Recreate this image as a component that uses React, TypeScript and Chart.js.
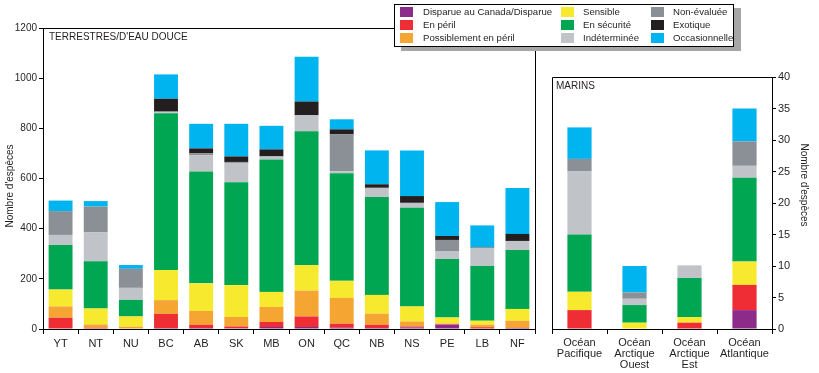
import React, { useEffect, useRef } from "react";
import { Chart, registerables } from "chart.js";
Chart.register(...registerables);

const FONT = "'Liberation Sans', Arial, sans-serif";
const TXT = "#231f20";

// ---------- DATA ----------
const terrCategories = ["YT", "NT", "NU", "BC", "AB", "SK", "MB", "ON", "QC", "NB", "NS", "PE", "LB", "NF"];
const statusLabels = [
  "Disparue au Canada/Disparue",
  "En péril",
  "Possiblement en péril",
  "Sensible",
  "En sécurité",
  "Indéterminée",
  "Non-évaluée",
  "Exotique",
  "Occasionnelle",
];
const terrDisparue = [0, 0, 0, 4, 4, 3, 8, 8, 5, 4, 6, 17, 2, 4];
const terrPeril = [45, 5, 0, 56, 13, 7, 20, 42, 16, 13, 4, 2, 5, 1];
const terrPossible = [45, 13, 9, 55, 55, 38, 60, 103, 103, 44, 20, 3, 10, 28];
const terrSensible = [67, 64, 41, 120, 110, 127, 60, 102, 68, 75, 60, 24, 16, 47];
const terrSecurite = [178, 188, 66, 625, 446, 410, 528, 533, 429, 390, 393, 233, 218, 235];
const terrIndeterminee = [40, 115, 48, 4, 64, 77, 12, 64, 8, 34, 17, 32, 72, 36];
const terrNonEvaluee = [95, 103, 76, 3, 8, 4, 0, 0, 147, 3, 3, 44, 2, 0];
const terrExotique = [0, 0, 0, 51, 20, 22, 28, 55, 20, 14, 27, 16, 2, 28];
const terrOccasionnelle = [42, 22, 15, 97, 98, 130, 94, 178, 40, 135, 182, 135, 86, 183];

const marineCategories = [
  ["Océan", "Pacifique"],
  ["Océan", "Arctique", "Ouest"],
  ["Océan", "Arctique", "Est"],
  ["Océan", "Atlantique"],
];
const marDisparue = [0, 0, 0, 3];
const marPeril = [3, 0, 1, 4];
const marPossible = [0, 0, 0, 0];
const marSensible = [2.9, 1, 0.9, 3.7];
const marSecurite = [9.1, 2.8, 6.2, 13.3];
const marIndeterminee = [10, 1, 2, 1.9];
const marNonEvaluee = [2, 1, 0, 3.9];
const marExotique = [0, 0, 0, 0];
const marOccasionnelle = [5, 4.2, 0, 5.2];

const terrTitle = "TERRESTRES/D'EAU DOUCE";
const marTitle = "MARINS";
const yTitle = "Nombre d'espèces";
const terrMax = 1200;
const terrStep = 200;
const marMax = 40;
const marStep = 5;

// ---------- STYLES ----------
const statusColors = ["#8d2b8b", "#ee2d35", "#f4a532", "#f7e92e", "#00a651", "#c0c4c9", "#8a9096", "#231f20", "#00b5ef"];

const terrSeries = [terrDisparue, terrPeril, terrPossible, terrSensible, terrSecurite, terrIndeterminee, terrNonEvaluee, terrExotique, terrOccasionnelle];
const marSeries = [marDisparue, marPeril, marPossible, marSensible, marSecurite, marIndeterminee, marNonEvaluee, marExotique, marOccasionnelle];

function datasets(series: number[][], barPct: number) {
  return series.map((data, i) => ({
    label: statusLabels[i],
    data,
    backgroundColor: statusColors[i],
    borderWidth: 0,
    barPercentage: barPct,
    categoryPercentage: 1,
    stack: "s",
  }));
}

const leftDecor = {
  id: "leftDecor",
  afterDraw(chart: any) {
    const { ctx, chartArea: a } = chart;
    ctx.save();
    ctx.strokeStyle = "#000";
    ctx.lineWidth = 1;
    ctx.beginPath();
    ctx.moveTo(a.left, Math.round(a.top) + 0.5);
    ctx.lineTo(Math.round(a.right) + 0.5, Math.round(a.top) + 0.5);
    ctx.lineTo(Math.round(a.right) + 0.5, a.bottom);
    ctx.stroke();
    ctx.fillStyle = TXT;
    ctx.font = `10px ${FONT}`;
    ctx.textBaseline = "alphabetic";
    ctx.textAlign = "left";
    ctx.fillText(terrTitle, a.left + 6, a.top + 12);
    ctx.translate(10, 186);
    ctx.rotate(-Math.PI / 2);
    ctx.textAlign = "center";
    ctx.textBaseline = "middle";
    ctx.fillText(yTitle, 0, 0);
    ctx.restore();
  },
};

const rightDecor = {
  id: "rightDecor",
  afterDraw(chart: any) {
    const { ctx, chartArea: a } = chart;
    ctx.save();
    ctx.strokeStyle = "#000";
    ctx.lineWidth = 1;
    ctx.beginPath();
    ctx.moveTo(Math.round(a.left) + 0.5, a.bottom);
    ctx.lineTo(Math.round(a.left) + 0.5, Math.round(a.top) + 0.5);
    ctx.lineTo(a.right, Math.round(a.top) + 0.5);
    ctx.stroke();
    ctx.fillStyle = TXT;
    ctx.font = `10px ${FONT}`;
    ctx.textBaseline = "alphabetic";
    ctx.textAlign = "left";
    ctx.fillText(marTitle, a.left + 4, a.top + 12);
    ctx.translate(259, 185);
    ctx.rotate(Math.PI / 2);
    ctx.textAlign = "center";
    ctx.textBaseline = "middle";
    ctx.fillText(yTitle, 0, 0);
    ctx.restore();
  },
};

function baseOptions(yPos: "left" | "right", max: number, step: number, yWidth: number, padding: any, xFont: number, lineHeight: number) {
  return {
    responsive: false,
    animation: false as const,
    devicePixelRatio: 1,
    layout: { padding },
    plugins: { legend: { display: false }, tooltip: { enabled: false } },
    scales: {
      x: {
        stacked: true,
        grid: { drawOnChartArea: false, drawTicks: true, tickLength: 5, color: "#000", offset: true },
        border: { display: true, color: "#000", width: 1 },
        ticks: { font: { size: xFont, family: FONT, lineHeight }, color: TXT, padding: 3, maxRotation: 0, autoSkip: false },
        afterFit: (s: any) => { s.height = 44; },
      },
      y: {
        position: yPos,
        stacked: true,
        min: 0,
        max,
        grid: { drawOnChartArea: false, drawTicks: true, tickLength: 4, color: "#000" },
        border: { display: true, color: "#000", width: 1 },
        ticks: {
          stepSize: step,
          font: { size: yPos === "left" ? 10 : 11, family: FONT },
          color: TXT,
          padding: 2,
          callback: (v: any) => String(v),
        },
        afterFit: (s: any) => { s.width = yWidth; },
      },
    },
  };
}

const legendCols = [400, 561, 651];
const legendRows = [7, 20, 33];

export default function App() {
  const leftRef = useRef<HTMLCanvasElement>(null);
  const rightRef = useRef<HTMLCanvasElement>(null);

  useEffect(() => {
    document.body.style.margin = "0";
    const c1 = new Chart(leftRef.current!, {
      type: "bar",
      data: { labels: terrCategories, datasets: datasets(terrSeries, 0.68) as any },
      options: baseOptions("left", terrMax, terrStep, 43, { top: 28, right: 10, left: 0, bottom: 0 }, 11, 1.2) as any,
      plugins: [leftDecor],
    });
    const c2 = new Chart(rightRef.current!, {
      type: "bar",
      data: { labels: marineCategories as any, datasets: datasets(marSeries, 0.44) as any },
      options: baseOptions("right", marMax, marStep, 47, { top: 77, right: 0, left: 7, bottom: 0 }, 11, 1.0) as any,
      plugins: [rightDecor],
    });
    return () => {
      c1.destroy();
      c2.destroy();
    };
  }, []);

  return (
    <div style={{ position: "relative", width: 819, height: 373, fontFamily: FONT, background: "#fff" }}>
      <canvas ref={leftRef} width={545} height={373} style={{ position: "absolute", left: 0, top: 0 }} />
      <canvas ref={rightRef} width={274} height={373} style={{ position: "absolute", left: 545, top: 0 }} />
      <div
        style={{
          position: "absolute",
          left: 394,
          top: 4,
          width: 340,
          height: 43,
          boxSizing: "border-box",
          border: "1.5px solid #000",
          background: "#fff",
          boxShadow: "7px 4px 0 0 #a6a6a6",
        }}
      />
      {statusLabels.map((lab, i) => {
        const col = Math.floor(i / 3);
        const row = i % 3;
        const sx = legendCols[col];
        const sy = legendRows[row];
        const tx = col === 0 ? 423 : col === 1 ? 583 : 673;
        return (
          <React.Fragment key={lab}>
            <div style={{ position: "absolute", left: sx, top: sy, width: 13, height: 10, background: statusColors[i] }} />
            <div
              style={{
                position: "absolute",
                left: tx,
                top: sy - 1,
                height: 12,
                lineHeight: "12px",
                fontSize: 9.6,
                color: TXT,
                whiteSpace: "nowrap",
              }}
            >
              {lab}
            </div>
          </React.Fragment>
        );
      })}
    </div>
  );
}
